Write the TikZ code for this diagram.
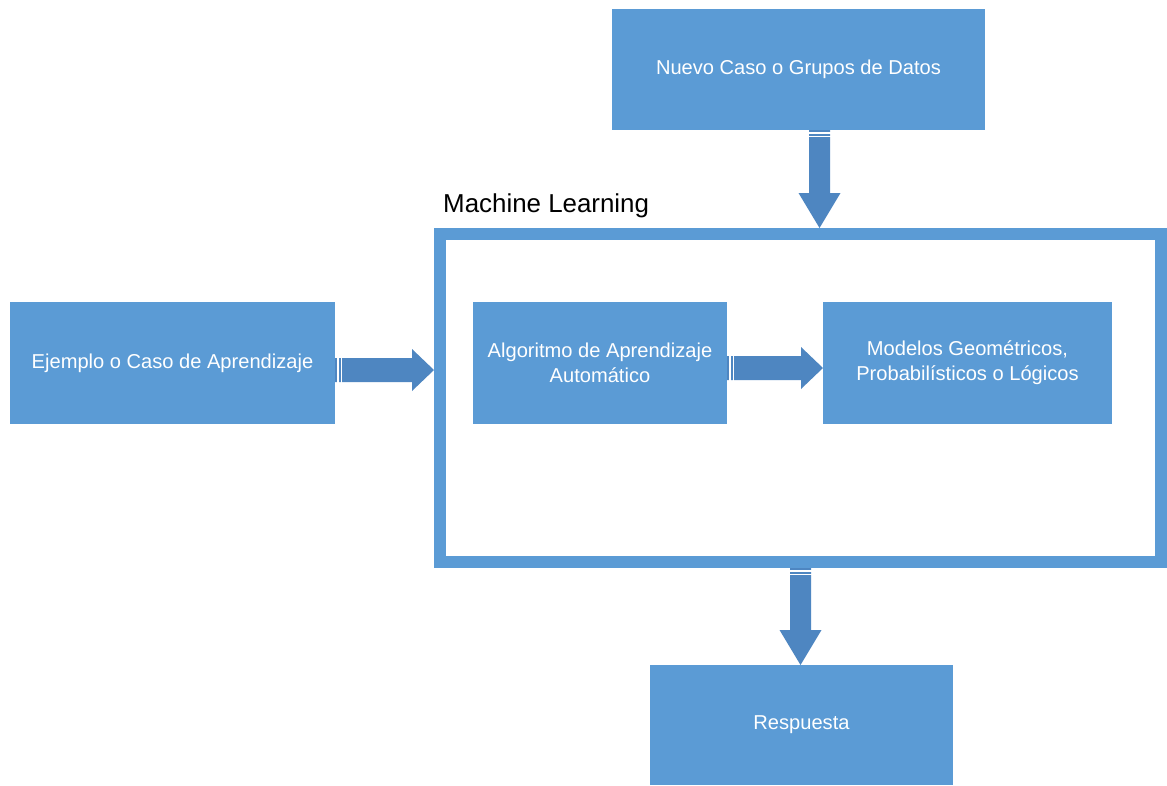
\documentclass[tikz,border=0pt]{standalone}
\usepackage{fontspec}
\setmainfont{Liberation Sans}
\usetikzlibrary{calc}
\definecolor{boxblue}{HTML}{5B9BD5}
\definecolor{arrblue}{HTML}{4E86C1}
\newcommand\hblockarrow[2]{%
  \fill[arrblue] let \p1=#1, \p2=#2 in
    (\x1,\y1+12pt) -- (\x2-22pt,\y1+12pt) -- (\x2-22pt,\y1+21pt) -- (\x2,\y1)
    -- (\x2-22pt,\y1-21pt) -- (\x2-22pt,\y1-12pt) -- (\x1,\y1-12pt) -- cycle;
  \draw[white, line width=1.1pt] let \p1=#1 in
    (\x1+3pt,\y1+12.5pt) -- (\x1+3pt,\y1-12.5pt)
    (\x1+6.5pt,\y1+12.5pt) -- (\x1+6.5pt,\y1-12.5pt);
}
\newcommand\vblockarrow[2]{%
  \fill[arrblue] let \p1=#1, \p2=#2 in
    (\x1-10.5pt,\y1) -- (\x1-10.5pt,\y2+35pt) -- (\x1-21pt,\y2+35pt) -- (\x1,\y2)
    -- (\x1+21pt,\y2+35pt) -- (\x1+10.5pt,\y2+35pt) -- (\x1+10.5pt,\y1) -- cycle;
  \draw[white, line width=1.1pt] let \p1=#1 in
    (\x1-11pt,\y1-3pt) -- (\x1+11pt,\y1-3pt)
    (\x1-11pt,\y1-6.5pt) -- (\x1+11pt,\y1-6.5pt);
}
\begin{document}
\begin{tikzpicture}[x=1pt,y=-1pt,
  bbox/.style={fill=boxblue, draw=none, text=white,
    font=\fontsize{20.1}{25}\selectfont, align=center, inner sep=0pt,
    outer sep=0pt, anchor=north west},
]
\useasboundingbox (0,0) rectangle (1167,785);
\fill[white] (0,0) rectangle (1167,785);
% boxes
\node[bbox, minimum width=373pt, minimum height=121pt] (nuevo) at (612,9)
  {Nuevo Caso o Grupos de Datos};
\node[bbox, minimum width=325pt, minimum height=122pt] (ejemplo) at (10,302)
  {Ejemplo o Caso de Aprendizaje};
\node[bbox, minimum width=254pt, minimum height=122pt] (algo) at (473,302)
  {Algoritmo de Aprendizaje\\Automático};
\node[bbox, minimum width=289pt, minimum height=122pt] (modelos) at (823,302)
  {Modelos Geométricos,\\Probabilísticos o Lógicos};
\node[bbox, minimum width=303pt, minimum height=120pt] (resp) at (650,665)
  {Respuesta};
% frame
\node[draw=boxblue, line width=12pt, minimum width=721pt, minimum height=328pt,
  inner sep=0pt, anchor=north west] (ml) at (434,228) {};
\node[anchor=west, inner sep=0pt, font=\fontsize{25.9}{30}\selectfont] (mltitle)
  at (443,206) {Machine Learning};
% arrows
\coordinate (a1s) at ($(ejemplo.east)+(0,7)$);
\hblockarrow{(a1s)}{(a1s -| ml.west)}
\coordinate (a2s) at ($(algo.east)+(0,5)$);
\hblockarrow{(a2s)}{(a2s -| modelos.west)}
\coordinate (a3s) at ($(nuevo.south)+(21,0)$);
\vblockarrow{(a3s)}{(a3s |- ml.north)}
\coordinate (a4s) at (ml.south);
\vblockarrow{(a4s)}{(a4s |- resp.north)}
\end{tikzpicture}
\end{document}
